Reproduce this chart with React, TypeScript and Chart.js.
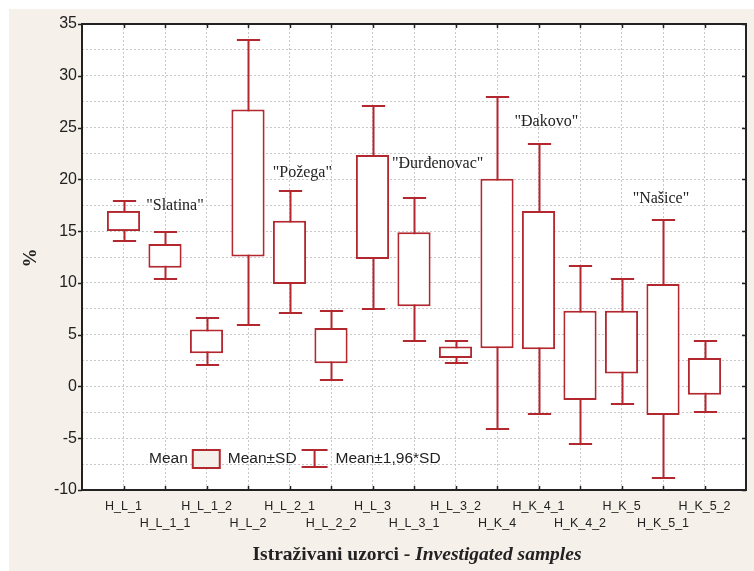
import React, { useEffect, useRef } from 'react';
import { Chart, registerables } from 'chart.js';
Chart.register(...registerables);

const samples = ['H_L_1', 'H_L_1_1', 'H_L_1_2', 'H_L_2', 'H_L_2_1', 'H_L_2_2', 'H_L_3', 'H_L_3_1', 'H_L_3_2', 'H_K_4', 'H_K_4_1', 'H_K_4_2', 'H_K_5', 'H_K_5_1', 'H_K_5_2'];
const whiskerHigh = [17.9, 14.9, 6.6, 33.5, 18.85, 7.3, 27.1, 18.15, 4.4, 27.95, 23.4, 11.6, 10.35, 16.1, 4.4];
const boxHigh = [16.95, 13.75, 5.5, 26.75, 16.0, 5.65, 22.35, 14.9, 3.85, 20.05, 16.95, 7.3, 7.3, 9.9, 2.75];
const boxLow = [15.0, 11.45, 3.2, 12.55, 9.9, 2.25, 12.3, 7.75, 2.75, 3.7, 3.6, -1.3, 1.25, -2.75, -0.8];
const whiskerLow = [14.05, 10.35, 2.05, 5.95, 7.05, 0.6, 7.45, 4.4, 2.25, -4.1, -2.7, -5.6, -1.65, -8.8, -2.45];

const regionNames = ['"Slatina"', '"Požega"', '"Đurđenovac"', '"Đakovo"', '"Našice"'];
const regionX = [1.24, 4.31, 7.57, 10.19, 12.95];
const regionY = [17.4, 20.65, 21.5, 25.6, 18.1];

const yMin = -10;
const yMax = 35;
const yStep = 2.5;
const legendLabels = ['Mean', 'Mean±SD', 'Mean±1,96*SD'];
const xTitleBold = 'Istraživani uzorci - ';
const xTitleItalic = 'Investigated samples';
const yTitle = '%';

const RED = '#b3272f';
const BEIGE = '#f5f0ea';
const INK = '#222222';
const SANS = '"Liberation Sans", Arial, sans-serif';
const SERIF = '"Liberation Serif", "Times New Roman", serif';

const decorPlugin = {
  id: 'decor',
  beforeDraw(chart: any) {
    const { ctx, chartArea: a, width, height } = chart;
    ctx.save();
    ctx.fillStyle = BEIGE;
    ctx.fillRect(0, 0, width, height);
    ctx.fillStyle = '#ffffff';
    ctx.fillRect(a.left, a.top, a.right - a.left, a.bottom - a.top);
    ctx.restore();
  },
  beforeDatasetsDraw(chart: any) {
    const { ctx } = chart;
    const xs = chart.scales.x;
    const ys = chart.scales.y;
    const slot = xs.getPixelForValue(1) - xs.getPixelForValue(0);
    const cap = slot * 0.56;
    ctx.save();
    ctx.strokeStyle = RED;
    ctx.lineWidth = 2;
    samples.forEach((_, i) => {
      const x = Math.round(xs.getPixelForValue(i)) + 0.5;
      const yh = Math.round(ys.getPixelForValue(whiskerHigh[i]));
      const yl = Math.round(ys.getPixelForValue(whiskerLow[i]));
      ctx.beginPath();
      ctx.moveTo(x, yh);
      ctx.lineTo(x, yl);
      ctx.moveTo(x - cap / 2, yh);
      ctx.lineTo(x + cap / 2, yh);
      ctx.moveTo(x - cap / 2, yl);
      ctx.lineTo(x + cap / 2, yl);
      ctx.stroke();
    });
    ctx.restore();
  },
  afterDraw(chart: any) {
    const { ctx, chartArea: a } = chart;
    const xs = chart.scales.x;
    const ys = chart.scales.y;
    ctx.save();
    // frame
    ctx.strokeStyle = INK;
    ctx.lineWidth = 2;
    ctx.strokeRect(a.left, a.top, a.right - a.left, a.bottom - a.top);
    // ticks
    ctx.lineWidth = 1.5;
    ctx.beginPath();
    samples.forEach((_, i) => {
      const x = Math.round(xs.getPixelForValue(i)) + 0.5;
      ctx.moveTo(x, a.top);
      ctx.lineTo(x, a.top + 4);
      ctx.moveTo(x, a.bottom);
      ctx.lineTo(x, a.bottom - 4);
    });
    for (let v = yMin; v <= yMax; v += 5) {
      const y = Math.round(ys.getPixelForValue(v)) + 0.5;
      ctx.moveTo(a.right, y);
      ctx.lineTo(a.right - 4, y);
      ctx.moveTo(a.left, y);
      ctx.lineTo(a.left - 4, y);
    }
    ctx.stroke();

    // region annotations
    ctx.fillStyle = INK;
    ctx.font = `16px ${SERIF}`;
    ctx.textAlign = 'center';
    ctx.textBaseline = 'middle';
    regionNames.forEach((n, i) => {
      ctx.fillText(n, xs.getPixelForValue(regionX[i]), ys.getPixelForValue(regionY[i]));
    });

    // legend
    ctx.font = `15.5px ${SANS}`;
    ctx.textAlign = 'left';
    ctx.textBaseline = 'middle';
    const ly = a.bottom - 31;
    let lx = a.left + 67;
    ctx.fillText(legendLabels[0], lx, ly);
    lx += ctx.measureText(legendLabels[0]).width + 5;
    ctx.fillStyle = BEIGE;
    ctx.fillRect(lx, ly - 9, 27, 18);
    ctx.strokeStyle = RED;
    ctx.lineWidth = 2;
    ctx.strokeRect(lx, ly - 9, 27, 18);
    lx += 27 + 8;
    ctx.fillStyle = INK;
    ctx.fillText(legendLabels[1], lx, ly);
    lx += ctx.measureText(legendLabels[1]).width + 5;
    ctx.beginPath();
    ctx.moveTo(lx, ly - 9);
    ctx.lineTo(lx + 26, ly - 9);
    ctx.moveTo(lx + 13, ly - 9);
    ctx.lineTo(lx + 13, ly + 8);
    ctx.moveTo(lx, ly + 8);
    ctx.lineTo(lx + 26, ly + 8);
    ctx.stroke();
    lx += 26 + 8;
    ctx.fillText(legendLabels[2], lx, ly);

    // x title
    ctx.textBaseline = 'middle';
    ctx.font = `bold 19.5px ${SERIF}`;
    const w1 = ctx.measureText(xTitleBold).width;
    ctx.font = `italic bold 19.5px ${SERIF}`;
    const w2 = ctx.measureText(xTitleItalic).width;
    const cx = (a.left + a.right) / 2 + 3;
    const tx = cx - (w1 + w2) / 2;
    const ty = 546;
    ctx.font = `bold 19.5px ${SERIF}`;
    ctx.fillText(xTitleBold, tx, ty);
    ctx.font = `italic bold 19.5px ${SERIF}`;
    ctx.fillText(xTitleItalic, tx + w1, ty);

    // y title
    ctx.save();
    ctx.translate(22, (a.top + a.bottom) / 2 + 1);
    ctx.rotate(-Math.PI / 2);
    ctx.font = `bold 19px ${SERIF}`;
    ctx.textAlign = 'center';
    ctx.fillText(yTitle, 0, 0);
    ctx.restore();

    ctx.restore();
  },
};

export default function App() {
  const ref = useRef<HTMLCanvasElement>(null);
  useEffect(() => {
    if (!ref.current) return;
    const chart = new Chart(ref.current, {
      type: 'bar',
      data: {
        datasets: [
          {
            label: 'Mean±SD',
            data: samples.map((_, i) => ({ x: i, y: [boxLow[i], boxHigh[i]] })) as any,
            backgroundColor: '#ffffff',
            borderColor: RED,
            borderWidth: 2,
            borderSkipped: false,
            barPercentage: 0.8,
            categoryPercentage: 1,
          },
        ],
      },
      options: {
        animation: false,
        responsive: false,
        devicePixelRatio: 1,
        layout: { padding: { top: 15, right: 2, left: 0, bottom: 0 } },
        plugins: { legend: { display: false }, tooltip: { enabled: false } },
        scales: {
          x: {
            type: 'linear',
            min: -1,
            max: 15,
            offset: false,
            afterFit: (s: any) => { s.height = 81; },
            ticks: {
              stepSize: 1,
              autoSkip: false,
              maxRotation: 0,
              padding: 8,
              color: INK,
              font: { family: SANS, size: 12.5, lineHeight: 1.36 },
              callback: (v: any) => {
                const i = Math.round(Number(v));
                if (i < 0 || i >= samples.length) return '';
                return i % 2 === 0 ? [samples[i], ''] : ['', samples[i]];
              },
            },
            grid: { color: '#c8c8c8', lineWidth: 1, drawTicks: false, offset: false },
            border: { display: false, dash: [2, 2] },
          },
          y: {
            type: 'linear',
            min: yMin,
            max: yMax,
            afterFit: (s: any) => { s.width = 73; },
            ticks: {
              stepSize: yStep,
              padding: 5,
              color: INK,
              font: { family: SANS, size: 16 },
              callback: (v: any) => (Number(v) % 5 === 0 ? String(v) : ''),
            },
            grid: { color: '#c8c8c8', lineWidth: 1, drawTicks: false },
            border: { display: false, dash: [2, 2] },
          },
        },
      },
      plugins: [decorPlugin],
    });
    return () => chart.destroy();
  }, []);
  return (
    <div style={{ position: 'absolute', left: 9, top: 9, width: 745, height: 562 }}>
      <canvas ref={ref} width={745} height={562} />
    </div>
  );
}
